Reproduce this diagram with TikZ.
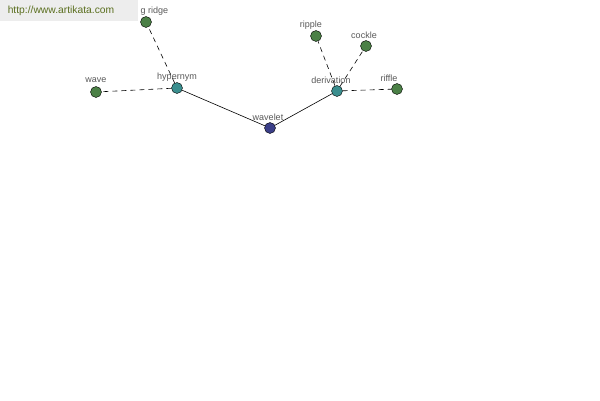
\documentclass[tikz,border=0pt]{standalone}
\usepackage{fontspec}
\setmainfont{Liberation Sans}
\definecolor{leafgreen}{HTML}{4B8046}
\definecolor{relteal}{HTML}{3A8E8E}
\definecolor{rootblue}{HTML}{3B3F88}
\definecolor{urlgreen}{HTML}{5B6F1F}
\tikzset{
  wnode/.style={circle,draw=black,line width=0.4pt,inner sep=0pt,minimum size=11pt},
  wlabel/.style={text=black!65,font=\fontsize{9}{10}\selectfont},
  rel/.style={line width=0.6pt},
  syn/.style={line width=0.6pt,dash pattern=on 5pt off 4pt}
}
\begin{document}
\begin{tikzpicture}[x=1pt,y=-1pt]
  \useasboundingbox[fill=white] (0,0) rectangle (600,400);
  \node[wnode,fill=rootblue] (wavelet) at (270,128) {};
  \node[wnode,fill=relteal] (hypernym) at (177,88) {};
  \node[wnode,fill=relteal] (derivation) at (337,91) {};
  \node[wnode,fill=leafgreen] (wave) at (96,92) {};
  \node[wnode,fill=leafgreen] (ridge) at (146,22) {};
  \node[wnode,fill=leafgreen] (ripple) at (316,36) {};
  \node[wnode,fill=leafgreen] (cockle) at (366,46) {};
  \node[wnode,fill=leafgreen] (riffle) at (397,89) {};
  \draw[rel] (wavelet) -- (hypernym);
  \draw[rel] (wavelet) -- (derivation);
  \draw[syn] (hypernym) -- (wave);
  \draw[syn] (hypernym) -- (ridge);
  \draw[syn] (derivation) -- (ripple);
  \draw[syn] (derivation) -- (cockle);
  \draw[syn] (derivation) -- (riffle);
  % labels
  \node[wlabel] at (268,117) {wavelet};
  \node[wlabel] at (177,77) {hypernym};
  \node[wlabel] at (331,80) {derivation};
  \node[wlabel] at (96,80) {wave};
  \node[wlabel,anchor=west] at (137,11) {g ridge};
  \node[wlabel] at (311,25) {ripple};
  \node[wlabel] at (364,35) {cockle};
  \node[wlabel] at (389,78) {riffle};
  % site banner
  \fill[black!7] (0,0) rectangle (138,21);
  \node[text=urlgreen,font=\fontsize{10.3}{11}\selectfont] (url) at (61,11) {http://www.artikata.com};
\end{tikzpicture}
\end{document}
